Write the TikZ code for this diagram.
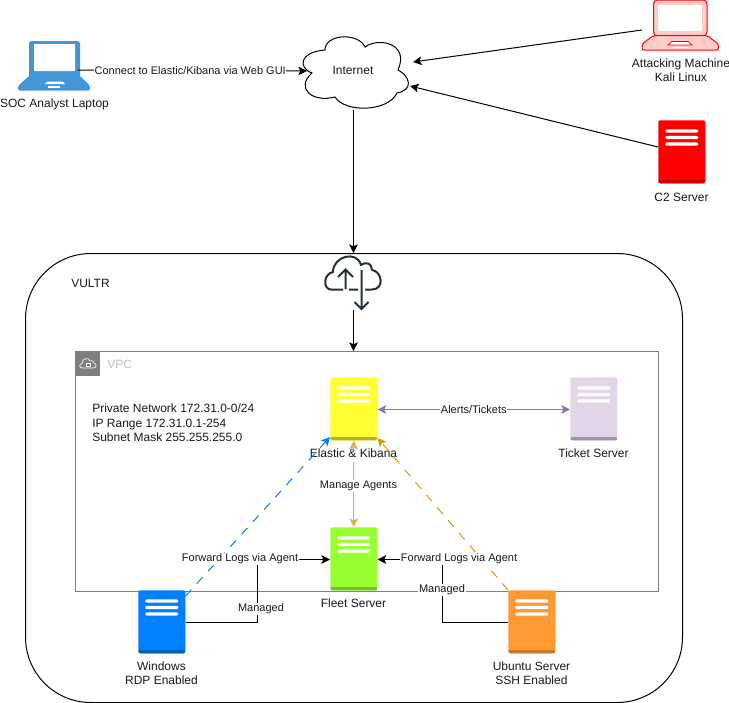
\documentclass[tikz,border=0pt]{standalone}
\usepackage{fontspec}
\setmainfont{Liberation Sans}
\usetikzlibrary{arrows.meta}
\definecolor{txt}{HTML}{1A1A1A}
\definecolor{lapb}{HTML}{4495D5}
\definecolor{lapp}{HTML}{FFCCCC}
\definecolor{gw}{HTML}{232F3E}
\definecolor{tick}{HTML}{E1D5E7}
\definecolor{fleet}{HTML}{99FF33}
\definecolor{win}{HTML}{007FFF}
\definecolor{ubu}{HTML}{FF9933}
\definecolor{elas}{HTML}{FFFF33}
\definecolor{purp}{HTML}{9673A6}
\definecolor{manage}{HTML}{D6B656}
\definecolor{ubd}{HTML}{D79B00}
\definecolor{vpcg}{HTML}{7F7F7F}
\tikzset{
  x=0.75pt,y=-0.75pt,
  every node/.style={font=\fontsize{9pt}{10.8pt}\selectfont,text=txt,align=center,inner sep=0pt},
  srv/.style n args={2}{rectangle,rounded corners=1.5pt,minimum width=35.25pt,minimum height=47.25pt,fill=#1,
    path picture={
      \fill[#2] ([yshift=2.4pt]path picture bounding box.south west) rectangle (path picture bounding box.south east);
      \foreach \yy in {9,15.5,22}{
        \fill[white] ([xshift=5.25pt,yshift=-\yy*0.75pt]path picture bounding box.north west) rectangle ++(24.75pt,-2.6pt);
      }
    }},
  arr/.style={draw=black,line width=0.75pt,-{Stealth[length=6.5pt,width=6.5pt,inset=1.5pt]}},
  arrb/.style={draw=black,line width=0.75pt,{Stealth[length=6.5pt,width=6.5pt,inset=1.5pt]}-{Stealth[length=6.5pt,width=6.5pt,inset=1.5pt]}},
  arrs/.style={draw=black,line width=0.75pt,{Stealth[length=6.5pt,width=6.5pt,inset=1.5pt]}-},
  elab/.style={fill=white,inner xsep=0.5pt,inner ysep=0.5pt,font=\fontsize{8.25pt}{10pt}\selectfont},
  dashy/.style={dash pattern=on 6.5pt off 6pt},
}
\begin{document}
\begin{tikzpicture}
\useasboundingbox (0,0) rectangle (729,703);
\fill[white] (0,0) rectangle (729,703);
% VULTR container
\node[draw=black,line width=0.75pt,rounded corners=49pt,minimum width=492.75pt,minimum height=336.75pt,anchor=north west] (vultr) at (25,253) {};
\node[anchor=west] (vultrlab) at (71,283) {VULTR};
% VPC
\node[draw=vpcg,line width=0.75pt,minimum width=437.25pt,minimum height=180pt,anchor=north west] (vpc) at (75,351) {};
\fill[vpcg] (75,351) rectangle (100,376);
\begin{scope}[shift={(79,355)}]
\draw[white,line width=0.5pt] (3,13) .. controls (0,13) and (0,9) .. (3,8.5) .. controls (3,3) and (10,2) .. (11,6) .. controls (14,5) and (15,7) .. (15,8) .. controls (18,9) and (18,13) .. (14,13) -- cycle;
\draw[white,line width=0.4pt] (7,8) rectangle (11,11);
\end{scope}
\node[anchor=west,text=vpcg!50] (vpclab) at (107,364) {VPC};
\node[anchor=north west,align=left] (info) at (92,404) {Private Network 172.31.0-0/24\\IP Range 172.31.0.1-254\\Subnet Mask 255.255.255.0};
% Laptop
\fill[lapb,rounded corners=2pt] (29,41) rectangle (80,78);
\fill[white,rounded corners=0.5pt] (34,44) rectangle (75,71);
\fill[lapb,rounded corners=1pt] (29,76) -- (80,76) -- (90,86) -- (90,90.5) -- (18,90.5) -- (18,86) -- cycle;
\fill[white] (45,84) -- (47,81.5) -- (63,81.5) -- (65,84) -- cycle;
\fill[white] (48,86) rectangle (60,87.5);
\coordinate (lapr) at (78,70);
\node (laplab) at (54.5,104) {SOC Analyst Laptop};
% Red laptop
\fill[lapp,draw=red,line width=0.75pt,rounded corners=3pt] (653.5,0) rectangle (707,36);
\fill[white] (658,5) rectangle (702,31);
\fill[lapp,draw=red,line width=0.75pt,rounded corners=1.5pt] (653.5,35.5) -- (707,35.5) -- (718.5,44) -- (718.5,50) -- (642,50) -- (642,44) -- cycle;
\fill[white,draw=red,line width=0.5pt] (668,45) -- (672,41.5) -- (688,41.5) -- (692,45) -- cycle;
\draw[white,line width=0.75pt] (673,47) -- (688,47);
\coordinate (kaliw) at (642,30);
\node (kalilab) at (681,70.5) {Attacking Machine\\Kali Linux};
% Internet cloud
\path[draw=black,fill=white,line width=0.75pt] (312,73)
  .. controls (298,68) and (299,52) .. (325,50)
  .. controls (325,34) and (358,32) .. (365,47)
  .. controls (378,37) and (410,43) .. (398,70)
  .. controls (410,76) and (414,90) .. (397,93)
  .. controls (388,112) and (345,113) .. (335,97)
  .. controls (312,103) and (295,88) .. (312,73) -- cycle;
\coordinate (cloudW) at (307,71);
\coordinate (cloudS) at (353.5,110);
\coordinate (cloudE1) at (413,62);
\coordinate (cloudE2) at (410,86);
\node (inet) at (353,70) {Internet};
% Cloud gateway icon
\draw[gw,line width=1.5pt,line join=round] (343,289.5) -- (331,289.5) .. controls (323,289.5) and (323,274) .. (333,272) .. controls (333,256) and (357,250) .. (361,265) .. controls (367,261) and (372,264) .. (372,270) .. controls (382,271) and (385,289.5) .. (372,289.5) -- (365,289.5) (358,289.5) -- (349,289.5);
\draw[gw,line width=1.5pt] (345.5,289) -- (345.5,270) (338,277) -- (345.5,269.5) -- (353,277);
\draw[gw,line width=1.5pt] (361.5,270) -- (361.5,309) (354.5,302) -- (361.5,309) -- (368.5,302);
\coordinate (gwtop) at (353.5,253);
\coordinate (gwbot) at (353.5,310);
\coordinate (vpctop) at (353.5,351);
% Servers
\node[srv={red}{red!80!black},anchor=north west] (c2) at (658,120) {};
\node (c2lab) at (681.5,197) {C2 Server};
\node[srv={elas}{elas!70!black},anchor=north west] (elastic) at (330,377) {};
\node[srv={tick}{tick!70!black},anchor=north west] (ticket) at (570,377) {};
\node (tlab) at (593.5,453) {Ticket Server};
\node[srv={fleet}{fleet!75!black},anchor=north west] (fleets) at (330,527) {};
\node (flab) at (353.5,603) {Fleet Server};
\node[srv={win}{win!75!black},anchor=north west] (windows) at (138,590) {};
\node (wlab) at (161.5,673.5) {Windows\\RDP Enabled};
\node[srv={ubu}{ubu!80!black},anchor=north west] (ubuntu) at (508,590) {};
\node (ulab) at (531.5,673.5) {Ubuntu Server\\SSH Enabled};
\node (elab) at (353.5,453) {Elastic \& Kibana};
% Connectors
\coordinate (mtop) at (353.5,450);
\coordinate (mbot) at (353.5,462);
\draw[arr] (lapr) -- node[elab,pos=0.49] (l1) {Connect to Elastic/Kibana via Web GUI} (cloudW);
\draw[arr] (kaliw) -- (cloudE1);
\draw[arr] (c2.west |- 0,147) -- (cloudE2);
\draw[arr] (cloudS) -- (gwtop);
\draw[arr] (gwbot) -- (vpctop);
\draw[arrb,draw=purp] (elastic.east |- 0,409.5) -- node[elab,pos=0.5] (l2) {Alerts/Tickets} (ticket.west |- 0,409.5);
\draw[arrs,draw=manage] (elastic.south) -- (mtop);
\draw[arr,draw=manage] (mbot) -- (fleets.north);
\node[elab] (l3) at (358.5,486) {Manage Agents};
\draw[arr,draw=win,dashy] (windows.north east |- 0,596) -- (elastic.south west |- 0,437);
\draw[arr,draw=ubd,dashy] (ubuntu.north west) -- (elastic.south east |- 0,438);
\draw[arr] (windows.east |- 0,622) -- (257.5,622) -- (257.5,559.5) -- (fleets.west |- 0,559.5);
\node[elab] (wman) at (261,609) {Managed};
\node[elab] (wfwd) at (240,559) {Forward Logs via Agent};
\draw[arr] (ubuntu.west |- 0,622) -- (442.5,622) -- (442.5,559.5) -- (fleets.east |- 0,559.5);
\node[elab] (uman) at (442,590) {Managed};
\node[elab] (ufwd) at (459,559) {Forward Logs via Agent};
\end{tikzpicture}
\end{document}
